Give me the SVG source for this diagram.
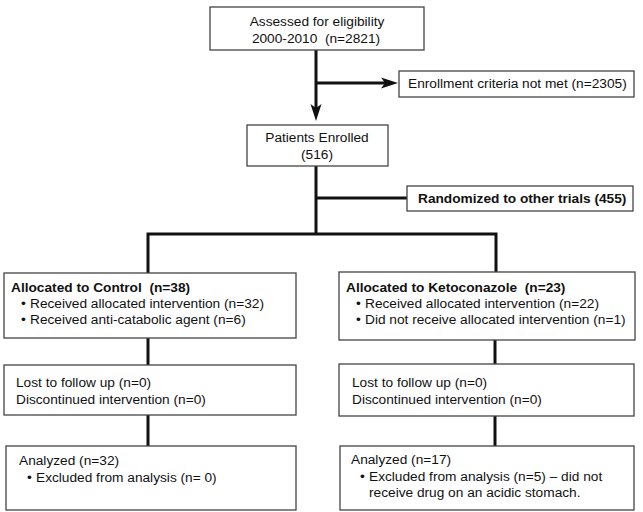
<svg xmlns="http://www.w3.org/2000/svg" width="643" height="512" viewBox="0 0 643 512">
<style>
.box{fill:#fff;stroke:#444;stroke-width:1.3}
.ln{fill:none;stroke:#111;stroke-width:3;stroke-linejoin:miter;stroke-linecap:butt}
.ah{fill:#111}
text{font-family:"Liberation Sans",Arial,sans-serif;font-size:13.7px;fill:#111;white-space:pre}
.b{font-weight:bold}
.c{text-anchor:middle}
</style>
<rect width="643" height="512" fill="#fff"/>
<g id="connectors">
<path class="ln" d="M316,50 V110"/>
<path class="ah" d="M316,121 L310.5,104 L316,108 L321.5,104 Z"/>
<path class="ln" d="M316,83 H386"/>
<path class="ah" d="M398,83 L381,77.5 L385,83 L381,88.5 Z"/>
<path class="ln" d="M316,166 V234"/>
<path class="ln" d="M316,198 H407"/>
<path class="ln" d="M148,273 V234 H496 V272"/>
<path class="ln" d="M148,338 V365"/>
<path class="ln" d="M148,415 V446"/>
<path class="ln" d="M495,340 V364"/>
<path class="ln" d="M495,416 V446"/>
</g>
<g id="assessed">
<rect class="box" x="210" y="7" width="214" height="43"/>
<text class="c" x="317" y="26">Assessed for eligibility</text>
<text class="c" x="316" y="43" xml:space="preserve">2000-2010  (n=2821)</text>
</g>
<g id="notmet">
<rect class="box" x="399" y="71" width="235" height="26"/>
<text x="408" y="88">Enrollment criteria not met (n=2305)</text>
</g>
<g id="enrolled">
<rect class="box" x="247" y="125" width="141" height="41"/>
<text class="c" x="317" y="142">Patients Enrolled</text>
<text class="c" x="317" y="159">(516)</text>
</g>
<g id="randomized">
<rect class="box" x="407" y="186" width="226" height="25"/>
<text class="b" x="418" y="203">Randomized to other trials (455)</text>
</g>
<g id="control">
<rect class="box" x="4" y="273" width="292" height="65"/>
<text class="b" x="11" y="292" xml:space="preserve">Allocated to Control  (n=38)</text>
<text x="21" y="308">•</text>
<text x="30" y="308">Received allocated intervention (n=32)</text>
<text x="21" y="324">•</text>
<text x="30" y="324">Received anti-catabolic agent (n=6)</text>
</g>
<g id="keto">
<rect class="box" x="339" y="272" width="296" height="68"/>
<text class="b" x="346" y="292" xml:space="preserve">Allocated to Ketoconazole  (n=23)</text>
<text x="356" y="308">•</text>
<text x="365" y="308">Received allocated intervention (n=22)</text>
<text x="356" y="324">•</text>
<text x="365" y="324">Did not receive allocated intervention (n=1)</text>
</g>
<g id="lost-left">
<rect class="box" x="4" y="365" width="292" height="50"/>
<text x="16" y="387">Lost to follow up (n=0)</text>
<text x="16" y="404">Discontinued intervention (n=0)</text>
</g>
<g id="lost-right">
<rect class="box" x="339" y="364" width="295" height="52"/>
<text x="352" y="387">Lost to follow up (n=0)</text>
<text x="352" y="404">Discontinued intervention (n=0)</text>
</g>
<g id="analyzed-left">
<rect class="box" x="6" y="446" width="290" height="64"/>
<text x="19" y="465">Analyzed (n=32)</text>
<text x="27" y="482">•</text>
<text x="36" y="482">Excluded from analysis (n= 0)</text>
</g>
<g id="analyzed-right">
<rect class="box" x="340" y="446" width="294" height="64"/>
<text x="351" y="464">Analyzed (n=17)</text>
<text x="360" y="481">•</text>
<text x="369" y="481">Excluded from analysis (n=5) – did not</text>
<text x="369" y="497">receive drug on an acidic stomach.</text>
</g>
</svg>
